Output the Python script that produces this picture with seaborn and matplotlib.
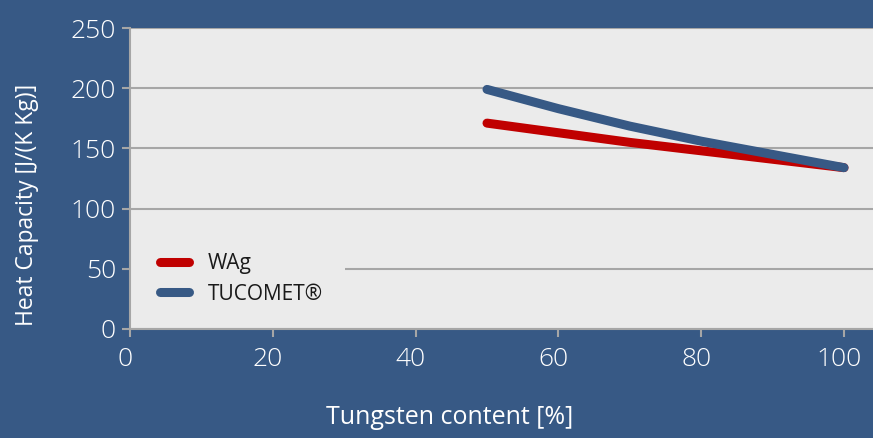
import matplotlib
matplotlib.use("Agg")
import matplotlib.pyplot as plt
import matplotlib.transforms as mtransforms
from matplotlib.patches import Rectangle
import seaborn as sns
import pandas as pd

tungsten = [50, 60, 70, 80, 90, 100]
wag = [171, 163, 155, 148, 141, 134]
tucomet = [199, 183, 168.5, 156, 145, 134]
series_names = ["WAg", "TUCOMET®"]
yticks = [0, 50, 100, 150, 200, 250]
xticks = [0, 20, 40, 60, 80, 100]

df = pd.DataFrame({
    "x": tungsten * 2,
    "y": wag + tucomet,
    "series": [series_names[0]] * len(tungsten) + [series_names[1]] * len(tungsten),
})

sns.set_theme(style="white")
plt.rcParams['font.family'] = ['Open Sans', 'DejaVu Sans']

BG = "#375985"
PLOT_BG = "#ebebeb"
GRID = "#a6a6a6"

fig = plt.figure(figsize=(8.73, 4.38), dpi=100, facecolor=BG)
ax = fig.add_axes([130/873, 1 - 329/438, 1 - 130/873, (329 - 28)/438])
ax.set_facecolor(PLOT_BG)

sns.lineplot(data=df, x="x", y="y", hue="series",
             palette={series_names[0]: "#c00000", series_names[1]: "#375985"},
             linewidth=6.5, solid_capstyle="round", solid_joinstyle="round", ax=ax)

ax.set_xlim(0, 104.06)
ax.set_ylim(0, 250)
ax.set_xticks(xticks)
ax.set_yticks(yticks)
ax.yaxis.grid(True, color=GRID, linewidth=1.5)
ax.set_axisbelow(True)
for s in ["top", "right"]:
    ax.spines[s].set_visible(False)
for s in ["left", "bottom"]:
    ax.spines[s].set_color(GRID)
    ax.spines[s].set_linewidth(1.5)
    ax.spines[s].set_zorder(6)
ax.tick_params(axis="both", colors=GRID, labelcolor="white", labelsize=19,
               length=6, width=1.5, direction="out", bottom=True, left=True)
ax.tick_params(axis="y", pad=4)
ax.tick_params(axis="x", pad=7)
for lab in ax.get_xticklabels() + ax.get_yticklabels():
    lab.set_fontweight("light")
shift = mtransforms.ScaledTranslation(-5/100, 0, fig.dpi_scale_trans)
for lab in ax.get_xticklabels():
    lab.set_transform(lab.get_transform() + shift)

ax.set_xlabel("Tungsten content [%]", color="white", fontsize=18)
ax.set_ylabel("Heat Capacity [J/(K Kg)]", color="white", fontsize=16.5)
ax.xaxis.set_label_coords((450 - 130) / 743, (329 - 418) / 301)
ax.yaxis.set_label_coords((27 - 130) / 743, (329 - 205) / 301)
ax.xaxis.label.set_va("center")
ax.yaxis.label.set_va("center")

# legend background area (hides the gridline behind the legend)
ax.add_patch(Rectangle((0, (329 - 310) / 301), (345 - 130) / 743, (310 - 244) / 301,
                       transform=ax.transAxes, facecolor=PLOT_BG, edgecolor="none",
                       zorder=1))

leg = ax.legend(loc="center left", bbox_to_anchor=(15 / 743, (329 - 279) / 301), frameon=False,
                fontsize=15, handlelength=1.4, handletextpad=0.9,
                borderpad=0.7, labelspacing=0.45, borderaxespad=0.0)
leg.set_zorder(5)
for t in leg.get_texts():
    t.set_color("#1a1a1a")
for h in leg.get_lines():
    h.set_linewidth(6.5)
    h.set_solid_capstyle("round")

fig.savefig("out.png", dpi=100, facecolor=BG)
